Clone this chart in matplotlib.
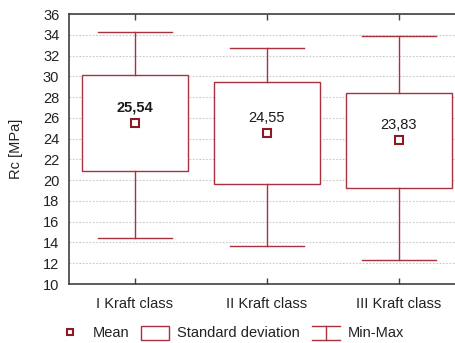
import matplotlib
matplotlib.use("Agg")
import matplotlib.pyplot as plt
from matplotlib.legend_handler import HandlerBase
from matplotlib.lines import Line2D
from matplotlib.patches import Rectangle

plt.rcParams['font.family'] = ['Liberation Sans', 'DejaVu Sans']

# Rc per class: mean, standard deviation, min, max
classes = ['I Kraft class', 'II Kraft class', 'III Kraft class']
means = [25.54, 24.55, 23.83]
sds = [4.62, 4.90, 4.55]
mins = [14.4, 13.7, 12.3]
maxs = [34.3, 32.7, 33.9]
mean_labels = ['25,54', '24,55', '23,83']

RED = '#a8323e'
DARK_RED = '#8c1a22'
SPINE = '#404040'


class MinMaxHandler(HandlerBase):
    # I-beam symbol for the min-max legend entry
    def create_artists(self, legend, orig_handle, xdescent, ydescent,
                       width, height, fontsize, trans):
        y0 = -ydescent
        y1 = -ydescent + height
        xm = -xdescent + width / 2
        top = Line2D([-xdescent, -xdescent + width], [y1, y1], color=RED, lw=1.0, transform=trans)
        bot = Line2D([-xdescent, -xdescent + width], [y0, y0], color=RED, lw=1.0, transform=trans)
        mid = Line2D([xm, xm], [y0, y1], color=RED, lw=1.0, transform=trans)
        return [top, bot, mid]


fig = plt.figure(figsize=(4.55, 3.43), dpi=100)
ax = fig.add_axes([69 / 455, 59 / 343, 396 / 455, 270 / 343])

pos = list(range(1, len(classes) + 1))
box_w = 0.8
cap_w = 0.56

for x, m, s, lo, hi in zip(pos, means, sds, mins, maxs):
    ax.add_patch(Rectangle((x - box_w / 2, m - s), box_w, 2 * s,
                           facecolor='white', edgecolor=RED, lw=1.0, zorder=3))
    ax.plot([x, x], [m + s, hi], color=RED, lw=1.0, zorder=3)
    ax.plot([x, x], [lo, m - s], color=RED, lw=1.0, zorder=3)
    ax.plot([x - cap_w / 2, x + cap_w / 2], [hi, hi], color=RED, lw=1.0, zorder=3)
    ax.plot([x - cap_w / 2, x + cap_w / 2], [lo, lo], color=RED, lw=1.0, zorder=3)

ax.plot(pos, means, ls='none', marker='s', ms=6, mfc='white', mec=DARK_RED,
        mew=1.5, zorder=4)

for i, (x, m, lab) in enumerate(zip(pos, means, mean_labels)):
    ax.annotate(lab, (x, m), xytext=(0, 11), textcoords='offset points',
                ha='center', va='center', fontsize=10.5, color='#1a1a1a',
                fontweight='bold' if i == 0 else 'normal', zorder=5)

ax.set_xlim(0.5, 3.5)
ax.set_ylim(10, 36)
ax.set_yticks(range(10, 37, 2))
ax.set_xticks(pos)
ax.set_xticklabels(classes)
ax.set_ylabel('Rc [MPa]', fontsize=10.5, color='#222222', labelpad=14)

ax.tick_params(axis='y', length=0, pad=7, labelsize=10.5, labelcolor='#222222')
ax.tick_params(axis='x', direction='in', length=4, width=1, color=SPINE,
               top=True, pad=9, labelsize=10.5, labelcolor='#222222')
ax.grid(axis='y', ls=(0, (1.5, 1.5)), color='#c8c8c8', lw=0.8)
ax.set_axisbelow(True)

for side in ['left', 'top', 'bottom']:
    ax.spines[side].set_color(SPINE)
    ax.spines[side].set_linewidth(1.2)
ax.spines['right'].set_visible(False)

mean_h = Line2D([], [], ls='none', marker='s', ms=5, mfc='white', mec=DARK_RED, mew=1.5)
sd_h = Rectangle((0, 0), 1, 1, facecolor='white', edgecolor=RED, lw=1.0)
mm_h = Line2D([], [], color=RED)
fig.legend([mean_h, sd_h, mm_h], ['Mean', 'Standard deviation', 'Min-Max'],
           handler_map={mm_h: MinMaxHandler()},
           loc='center left', bbox_to_anchor=(56 / 455, 10 / 343), ncol=3, frameon=False,
           borderpad=0, borderaxespad=0,
           fontsize=10.5, handlelength=1.95, handleheight=1.1, columnspacing=0.8,
           handletextpad=0.55, labelcolor='#222222')

fig.savefig('out.png', dpi=100)
